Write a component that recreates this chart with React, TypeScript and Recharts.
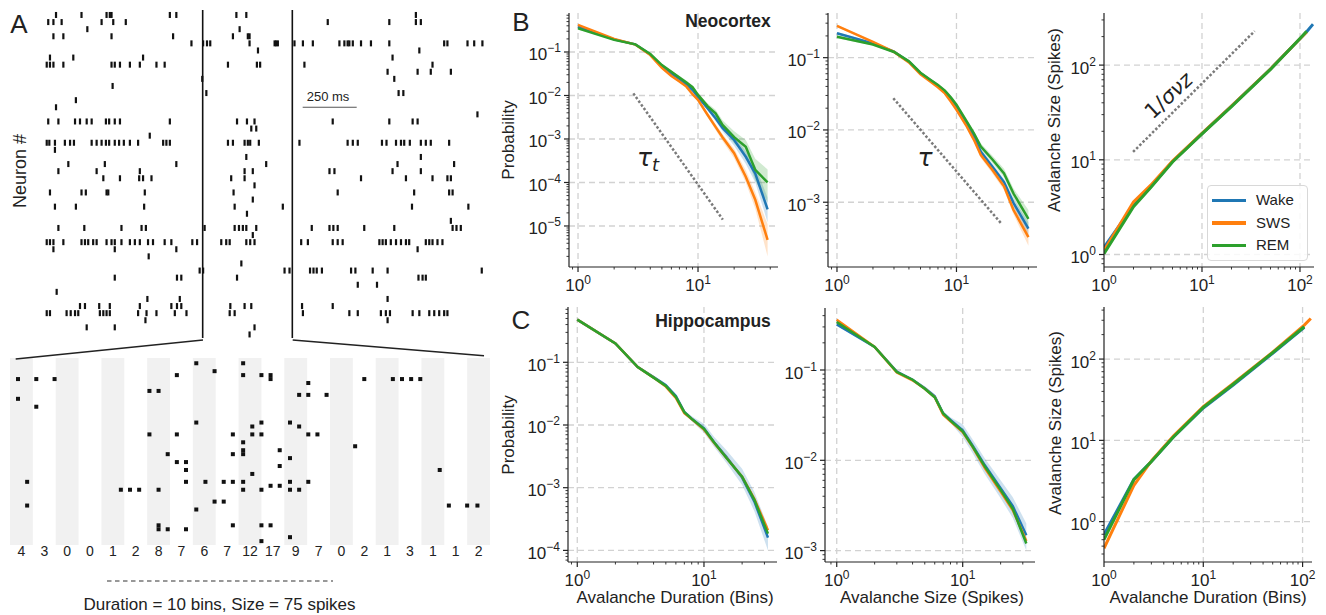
import React from 'react';
import {
  ComposedChart, Line, Area, XAxis, YAxis, CartesianGrid, ReferenceLine, ReferenceArea,
  Legend, ScatterChart, Scatter,
} from 'recharts';

const FONT = "'Liberation Sans', Arial, Helvetica, sans-serif";
const INK = '#222';
const WAKE = '#1f77b4';
const SWS = '#ff7f0e';
const REM = '#2ca02c';

// ---------- Panel A: raster (spike times in ms, one row per neuron) ----------
const rasterSpikes: number[][] = [
  [51, 169, 285, 300, 308, 578, 608, 886, 932, 1717],
  [15, 39, 77, 262, 316, 374, 1309, 1594, 1717, 1740],
  [196, 901],
  [39, 85, 308, 593, 870, 939, 947],
  [678, 732, 750, 765, 947, 1063, 1070, 1078, 1155, 1194, 1240, 1363, 1386, 1401, 1409, 1425, 1463, 1509, 1594, 1848, 1863, 1956, 1987, 2025],
  [986, 1733],
  [23, 131, 454, 1609],
  [8, 23, 39, 85, 308, 323, 347, 393, 439, 516, 554, 847, 981, 996, 1201, 1794],
  [1586, 1725, 1786, 1879],
  [728, 1617],
  [313],
  [747, 1637, 1659],
  [143],
  [51],
  [2002],
  [15, 62, 139, 162, 193, 216, 282, 297, 323, 347, 578, 889, 935, 970, 1332, 1594, 1702, 1725],
  [955, 978],
  [485],
  [8, 20, 46, 92, 116, 134, 216, 239, 262, 282, 297, 323, 343, 365, 393, 431, 547, 562, 578, 847, 870, 924, 939, 950, 990, 1178, 1401, 1425, 1448, 1560, 1581, 1625, 1648, 1663, 1689, 1740, 1763, 1786, 1871],
  [46],
  [932, 1740],
  [108, 277, 608, 1024, 1632, 1894],
  [62, 239, 439, 924, 962, 1317, 1340, 1609, 1740],
  [270, 347, 436, 454, 493, 862, 924, 1463, 1671, 1794, 1863, 1879],
  [970],
  [23, 169, 189, 285, 293, 462, 873, 1355, 1709, 1871, 1887],
  [962],
  [46, 143, 459, 878, 1101, 1699, 1960],
  [935],
  [1879],
  [62, 182, 354, 447, 467, 739, 878, 898, 916, 932, 978, 1235, 1317, 1335, 1355, 1478, 1617, 1887, 1905, 1925],
  [962],
  [8, 23, 39, 85, 169, 185, 200, 223, 239, 285, 308, 323, 354, 393, 416, 439, 477, 500, 554, 585, 682, 704, 816, 839, 855, 932, 950, 970, 1186, 1217, 1332, 1355, 1378, 1548, 1563, 1578, 1601, 1625, 1648, 1671, 1686, 1763, 1779, 1794, 1817, 1840],
  [39, 323, 608, 1725],
  [480],
  [909],
  [716, 732, 1109, 1132, 1227, 1243, 1258, 1282, 1417, 1437, 1517, 1586, 2022],
  [323, 611, 631, 889, 1729, 1748, 1763],
  [1448, 1537],
  [54],
  [474, 624, 1586],
  [162, 185, 251, 300, 439, 585, 611, 631, 858, 924, 955, 1190, 1332],
  [8, 23, 100, 119, 139, 154, 254, 270, 285, 300, 431, 470, 516, 601, 655, 855, 878, 1194, 1409, 1448, 1555, 1578, 1597, 1702, 1733, 1779, 1802, 1825, 1848, 1863],
  [465, 1586],
  [193, 323, 970],
  [947],
];
const windowEdges = [730, 1145];
const scaleBarMs = [1193, 1443];

// zoomed window: 21 bins of 20 ms, spikes as [time ms, row]
const binCounts = [4, 3, 0, 0, 1, 2, 8, 7, 6, 7, 12, 17, 9, 7, 0, 2, 1, 3, 1, 1, 2];
const zoomSpikes: [number, number][] = [
  [7, 5], [7, 10], [15, 31], [15, 37],
  [23, 5], [23, 12], [39, 5],
  [97, 33], [105, 33], [113, 33],
  [122, 8], [122, 19], [130, 8], [130, 33], [130, 42], [130, 43], [138, 24], [138, 43],
  [146, 4], [146, 19], [146, 26], [154, 26], [154, 28], [154, 31], [154, 43],
  [163, 1], [163, 16], [163, 38], [171, 31], [179, 3], [179, 36],
  [187, 31], [187, 36], [195, 19], [195, 24], [195, 31], [195, 42],
  [204, 1], [204, 4], [204, 21], [204, 23], [204, 24], [204, 31], [204, 33], [212, 17], [212, 19], [212, 29],
  [220, 4], [220, 16], [220, 19], [220, 33], [220, 42], [220, 46], [228, 4], [228, 5], [228, 32], [228, 42], [236, 23], [236, 27], [236, 32],
  [245, 16], [245, 25], [245, 31], [245, 33], [245, 45], [253, 9], [253, 17], [253, 33],
  [261, 6], [261, 9], [261, 19], [261, 31], [269, 19], [277, 9],
  [302, 22], [310, 5], [335, 5], [343, 5], [351, 5], [359, 5],
  [376, 28], [384, 37], [400, 37], [409, 37],
];

// ---------- Panel B: Neocortex ----------
const b1X = [1, 2, 3, 4, 5, 6, 7, 8, 9, 10, 12, 14, 16, 20, 25, 30, 38];
const b1Wake = [0.38, 0.195, 0.15, 0.088, 0.047, 0.032, 0.024, 0.018, 0.0134, 0.0093, 0.0051, 0.003, 0.0018, 0.00095, 0.00039, 0.00016, 0.000024];
const b1Sws = [0.42, 0.2, 0.148, 0.085, 0.043, 0.028, 0.021, 0.016, 0.0107, 0.0079, 0.0036, 0.0019, 0.0011, 0.00047, 0.000135, 0.00004, 0.0000048];
const b1Rem = [0.35, 0.19, 0.15, 0.09, 0.05, 0.035, 0.026, 0.02, 0.0155, 0.0103, 0.0057, 0.0039, 0.0021, 0.0011, 0.00066, 0.000195, 0.0001];
const b1WakeBand: [number, number][] = [[0.37, 0.39], [0.19, 0.2], [0.146, 0.154], [0.086, 0.09], [0.045, 0.049], [0.031, 0.033], [0.023, 0.025], [0.017, 0.019], [0.0126, 0.0142], [0.0086, 0.0101], [0.0046, 0.0057], [0.0026, 0.0035], [0.0015, 0.0022], [0.0007, 0.0012], [0.00027, 0.00052], [0.0001, 0.00024], [0.000012, 0.000045]];
const b1SwsBand: [number, number][] = [[0.41, 0.43], [0.195, 0.205], [0.144, 0.152], [0.083, 0.087], [0.041, 0.045], [0.027, 0.029], [0.02, 0.022], [0.015, 0.017], [0.0101, 0.0113], [0.0073, 0.0086], [0.0032, 0.004], [0.0016, 0.0022], [0.0009, 0.0013], [0.00036, 0.0006], [0.0001, 0.00019], [0.000025, 0.00006], [0.000002, 0.000011]];
const b1RemBand: [number, number][] = [[0.33, 0.37], [0.185, 0.195], [0.146, 0.154], [0.087, 0.093], [0.048, 0.052], [0.033, 0.037], [0.024, 0.028], [0.018, 0.022], [0.0142, 0.017], [0.0094, 0.0113], [0.005, 0.0066], [0.0033, 0.0047], [0.0017, 0.0027], [0.0008, 0.0015], [0.00045, 0.00095], [0.00011, 0.00035], [0.000035, 0.0002]];
const b1Tau = [{ x: 2.89, y: 0.0112 }, { x: 16.1, y: 0.000014 }];

const b2X = [1, 2, 3, 4, 5, 6, 7, 8, 9, 10, 12, 14, 16, 20, 25, 30, 40];
const b2Wake = [0.218, 0.158, 0.121, 0.088, 0.061, 0.049, 0.041, 0.034, 0.027, 0.021, 0.0128, 0.0081, 0.005, 0.0031, 0.0019, 0.00098, 0.00043];
const b2Sws = [0.275, 0.165, 0.12, 0.086, 0.059, 0.047, 0.039, 0.032, 0.0246, 0.019, 0.0117, 0.0073, 0.0045, 0.0028, 0.00166, 0.00078, 0.00033];
const b2Rem = [0.195, 0.152, 0.12, 0.089, 0.062, 0.05, 0.042, 0.035, 0.028, 0.0224, 0.0137, 0.009, 0.0059, 0.0039, 0.0025, 0.00132, 0.00059];
const b2WakeBand: [number, number][] = [[0.21, 0.226], [0.153, 0.163], [0.117, 0.125], [0.085, 0.091], [0.059, 0.063], [0.047, 0.051], [0.039, 0.043], [0.033, 0.035], [0.026, 0.028], [0.02, 0.022], [0.0122, 0.0134], [0.0077, 0.0086], [0.0047, 0.0054], [0.0028, 0.0034], [0.0017, 0.0021], [0.00085, 0.00112], [0.00035, 0.00053]];
const b2SwsBand: [number, number][] = [[0.265, 0.285], [0.16, 0.17], [0.116, 0.124], [0.083, 0.089], [0.057, 0.061], [0.045, 0.049], [0.037, 0.041], [0.031, 0.033], [0.0237, 0.0255], [0.018, 0.02], [0.011, 0.0124], [0.0068, 0.0078], [0.0041, 0.0049], [0.0025, 0.0031], [0.00148, 0.00185], [0.00068, 0.0009], [0.00025, 0.00043]];
const b2RemBand: [number, number][] = [[0.185, 0.205], [0.147, 0.157], [0.116, 0.124], [0.086, 0.092], [0.06, 0.064], [0.048, 0.052], [0.04, 0.044], [0.034, 0.036], [0.027, 0.029], [0.0214, 0.0235], [0.013, 0.0145], [0.0085, 0.0096], [0.0054, 0.0065], [0.0035, 0.0044], [0.0022, 0.0029], [0.00112, 0.00155], [0.00045, 0.00078]];
const b2Tau = [{ x: 2.96, y: 0.0275 }, { x: 23.9, y: 0.0005 }];

const b3X = [1, 2, 3, 5, 10, 20, 50, 100, 117, 136];
const b3Wake = [1.19, 3.3, 5.2, 9.6, 18.9, 37, 91, 190, 225, 271];
const b3Sws = [1.1, 3.6, 5.4, 9.7, 19, 37, 91, 190, 224, null];
const b3Rem = [1.02, 3.2, 5.1, 9.5, 18.8, 36.5, 90, 191, 228, null];
const b3Slope = [{ x: 1.98, y: 12.1 }, { x: 34.5, y: 229 }];

// ---------- Panel C: Hippocampus ----------
const c1X = [1, 2, 3, 4, 5, 6, 7, 8, 10, 12, 15, 20, 25, 32];
const c1Wake = [0.48, 0.2, 0.084, 0.058, 0.043, 0.029, 0.016, 0.0126, 0.0088, 0.0053, 0.0031, 0.00145, 0.0006, 0.00016];
const c1Sws = [0.48, 0.2, 0.084, 0.057, 0.041, 0.027, 0.0155, 0.0124, 0.0085, 0.0052, 0.003, 0.0015, 0.00066, 0.00021];
const c1Rem = [0.48, 0.2, 0.084, 0.057, 0.042, 0.028, 0.016, 0.0125, 0.0087, 0.0053, 0.003, 0.0015, 0.00064, 0.000185];
const c1WakeBand: [number, number][] = [[0.47, 0.49], [0.195, 0.205], [0.081, 0.087], [0.055, 0.061], [0.04, 0.046], [0.027, 0.031], [0.0148, 0.0173], [0.0115, 0.0138], [0.0075, 0.0105], [0.0045, 0.0065], [0.0025, 0.004], [0.0011, 0.002], [0.00042, 0.00085], [0.0001, 0.00024]];

const c2X = [1, 2, 3, 4, 5, 6, 7, 8, 10, 12, 15, 20, 25, 32];
const c2Wake = [0.32, 0.18, 0.096, 0.078, 0.063, 0.051, 0.033, 0.028, 0.0215, 0.0145, 0.0088, 0.0049, 0.0031, 0.00148];
const c2Sws = [0.36, 0.18, 0.094, 0.077, 0.062, 0.05, 0.032, 0.027, 0.0205, 0.014, 0.0082, 0.0045, 0.0028, 0.00128];
const c2Rem = [0.34, 0.18, 0.095, 0.078, 0.062, 0.05, 0.033, 0.0275, 0.021, 0.0142, 0.0085, 0.0047, 0.0029, 0.0012];
const c2WakeBand: [number, number][] = [[0.31, 0.33], [0.175, 0.185], [0.093, 0.099], [0.075, 0.081], [0.06, 0.066], [0.048, 0.054], [0.031, 0.035], [0.026, 0.03], [0.018, 0.025], [0.012, 0.017], [0.007, 0.0105], [0.0038, 0.006], [0.0023, 0.0039], [0.001, 0.002]];

const c3X = [1, 2, 3, 5, 10, 20, 50, 104, 121];
const c3Wake = [0.69, 3.3, 5.5, 11, 25, 48, 118, 245, null];
const c3Sws = [0.47, 2.8, 5.6, 11.3, 26, 50, 122, 262, 316];
const c3Rem = [0.6, 3.3, 5.5, 11, 25.5, 49, 120, 250, null];

const legendNames = ['Wake', 'SWS', 'REM'];
const legendColors = [WAKE, SWS, REM];

// ---------- helpers ----------
const logTicks = (lo: number, hi: number) => {
  const out: number[] = [];
  for (let e = Math.floor(Math.log10(lo)); e <= Math.ceil(Math.log10(hi)); e++) {
    for (let m = 1; m <= 9; m++) {
      const v = Number((m * Math.pow(10, e)).toPrecision(6));
      if (v >= lo && v <= hi) out.push(v);
    }
  }
  return out;
};

const expOf = (v: number) => {
  const lg = Math.log10(v);
  const e = Math.round(lg);
  return { e, major: Math.abs(lg - e) < 1e-6 };
};
const expText = (e: number) => (e < 0 ? '\u2212' + -e : String(e));

const XTick = (p: any) => {
  const { e, major } = expOf(p.payload.value);
  return (
    <g>
      <line x1={p.x} x2={p.x} y1={p.y} y2={p.y + (major ? 5 : 2.5)} stroke={INK} strokeWidth={major ? 1.2 : 0.9} />
      {major && (
        <text x={p.x} y={p.y + 24} textAnchor="middle" fill={INK} fontSize={17} fontFamily={FONT}>
          <tspan>10</tspan>
          <tspan dy={-7} fontSize={12}>{expText(e)}</tspan>
        </text>
      )}
    </g>
  );
};

const YTick = (p: any) => {
  const { e, major } = expOf(p.payload.value);
  return (
    <g>
      <line x1={p.x} x2={p.x - (major ? 5 : 2.5)} y1={p.y} y2={p.y} stroke={INK} strokeWidth={major ? 1.2 : 0.9} />
      {major && (
        <text x={p.x - 8} y={p.y + 8.5} textAnchor="end" fill={INK} fontSize={17} fontFamily={FONT}>
          <tspan>10</tspan>
          <tspan dy={-8} fontSize={12}>{expText(e)}</tspan>
        </text>
      )}
    </g>
  );
};

const LegendBox = () => (
  <div style={{ width: 101, boxSizing: 'border-box', border: '1px solid #d8d8d8', borderRadius: 4, background: 'rgba(255,255,255,0.85)', padding: '3px 6px 3px 4px', fontFamily: FONT, fontSize: 15, color: INK, lineHeight: '22.5px' }}>
    {legendNames.map((n, i) => (
      <div key={n} style={{ display: 'flex', alignItems: 'center' }}>
        <span style={{ display: 'inline-block', width: 34, height: 3.5, background: legendColors[i], marginRight: 10 }} />
        {n}
      </div>
    ))}
  </div>
);

type Ser = { key: string; color: string; values: (number | null)[]; band?: [number, number][] };
type PanelProps = {
  plot: [number, number, number, number];
  xDom: [number, number];
  yDom: [number, number];
  xs: number[];
  series: Ser[];
  seg?: { x: number; y: number }[];
  lw: number;
  xGrid: number[];
  yGrid: number[];
  legendAt?: [number, number];
};

function LogPanel({ plot, xDom, yDom, xs, series, seg, lw, xGrid, yGrid, legendAt }: PanelProps) {
  const [pl, pt, pr, pb] = plot;
  const left = pl - 70;
  const top = pt - 10;
  const data = xs.map((x, i) => {
    const row: Record<string, unknown> = { x };
    series.forEach((s) => {
      row[s.key] = s.values[i];
      if (s.band) row[s.key + 'Band'] = s.band[i];
    });
    return row;
  });
  return (
    <div style={{ position: 'absolute', left, top }}>
      <ComposedChart width={pr - pl + 95} height={pb - pt + 55} data={data} margin={{ top: 10, right: 25, bottom: 15, left: 30 }}>
        <CartesianGrid stroke="#d2d2d2" strokeDasharray="6 4" strokeWidth={1.3} horizontalValues={yGrid} verticalValues={xGrid} />
        <XAxis dataKey="x" type="number" scale="log" domain={xDom} allowDataOverflow ticks={logTicks(xDom[0], xDom[1])} interval={0}
          height={30} tickSize={0} tickMargin={0} tickLine={false} axisLine={{ stroke: INK, strokeWidth: 1.2 }} tick={XTick} />
        <YAxis type="number" scale="log" domain={yDom} allowDataOverflow ticks={logTicks(yDom[0], yDom[1])} interval={0}
          width={40} tickSize={0} tickMargin={0} tickLine={false} axisLine={{ stroke: INK, strokeWidth: 1.2 }} tick={YTick} />
        {series.filter((s) => s.band).map((s) => (
          <Area key={s.key + 'Band'} dataKey={s.key + 'Band'} stroke="none" fill={s.color} fillOpacity={0.22}
            isAnimationActive={false} legendType="none" dot={false} activeDot={false} />
        ))}
        {series.map((s) => (
          <Line key={s.key} dataKey={s.key} stroke={s.color} strokeWidth={lw} dot={false} activeDot={false} isAnimationActive={false} />
        ))}
        {seg && <ReferenceLine segment={seg} stroke="#7a7a7a" strokeWidth={2.5} strokeDasharray="2.5 2" ifOverflow="visible" />}
        {legendAt && (
          <Legend layout="vertical" align="center" verticalAlign="middle" content={() => <LegendBox />}
            wrapperStyle={{ left: legendAt[0] - left, top: legendAt[1] - top, width: 101 }} />
        )}
      </ComposedChart>
    </div>
  );
}

const Txt = ({ x, y, size, rotate = 0, bold, italic, family, children }: any) => (
  <div style={{ position: 'absolute', left: x, top: y, transform: `translate(-50%,-50%) rotate(${rotate}deg)`, fontSize: size, lineHeight: 1, whiteSpace: 'nowrap', fontWeight: bold ? 'bold' : 'normal', fontStyle: italic ? 'italic' : 'normal', fontFamily: family || FONT, color: INK }}>
    {children}
  </div>
);

const SpikeMark = (p: any) => <rect x={p.cx - 1.1} y={p.cy - 3} width={2.2} height={6} fill="#111" />;
const ZoomMark = (p: any) => <rect x={p.cx - 2} y={p.cy - 2} width={4} height={4} fill="#111" />;

function RasterPanel() {
  const points = rasterSpikes.flatMap((ts, i) => ts.map((t) => ({ t, n: i + 1 })));
  const zoomPoints = zoomSpikes.map(([t, r]) => ({ t, r }));
  const binCenters = binCounts.map((_, b) => b * 20 + 10);
  return (
    <>
      <div style={{ position: 'absolute', left: 0, top: 0 }}>
        <ScatterChart width={500} height={345} margin={{ top: 10, right: 15, bottom: 7, left: 45 }}>
          <XAxis dataKey="t" type="number" domain={[0, 2037]} hide allowDataOverflow />
          <YAxis dataKey="n" type="number" domain={[0.3, 46.5]} reversed hide />
          <Scatter data={points} shape={SpikeMark} isAnimationActive={false} />
          {windowEdges.map((x) => (
            <ReferenceLine key={x} x={x} stroke="#111" strokeWidth={1.6} />
          ))}
          <ReferenceLine segment={[{ x: scaleBarMs[0], y: 14 }, { x: scaleBarMs[1], y: 14 }]} stroke="#555" strokeWidth={1.2} />
        </ScatterChart>
      </div>
      <div style={{ position: 'absolute', left: 0, top: 345 }}>
        <ScatterChart width={500} height={230} margin={{ top: 13, right: 10, bottom: 0, left: 10 }}>
          {binCounts.map((_, b) => (b % 2 === 0 ? (
            <ReferenceArea key={b} x1={b * 20} x2={b * 20 + 20} fill="#f1f1f1" fillOpacity={1} stroke="none" />
          ) : null))}
          <XAxis dataKey="t" type="number" domain={[0, 420]} ticks={binCenters} interval={0} height={30}
            tickFormatter={(v: number) => String(binCounts[Math.floor(v / 20)])}
            axisLine={false} tickLine={false} tickSize={0} tickMargin={1} tick={{ fill: INK, fontSize: 14, fontFamily: FONT }} />
          <YAxis dataKey="r" type="number" domain={[-0.33, 46.98]} reversed hide />
          <Scatter data={zoomPoints} shape={ZoomMark} isAnimationActive={false} />
        </ScatterChart>
      </div>
      <svg width={500} height={600} style={{ position: 'absolute', left: 0, top: 0, pointerEvents: 'none' }}>
        <line x1={203} y1={340} x2={15.7} y2={359} stroke="#222" strokeWidth={1.5} />
        <line x1={292.7} y1={340} x2={484} y2={355.7} stroke="#222" strokeWidth={1.5} />
        <line x1={107} y1={581} x2={333} y2={581} stroke="#333" strokeWidth={1.2} strokeDasharray="4.5 3.5" />
      </svg>
    </>
  );
}

export default function App() {
  const yMajorB1 = [1e-1, 1e-2, 1e-3, 1e-4, 1e-5];
  return (
    <div style={{ position: 'absolute', left: 0, top: 0, width: 1326, height: 615, background: '#fff', overflow: 'hidden', fontFamily: FONT, color: INK }}>
      <RasterPanel />

      <LogPanel plot={[569, 13, 778, 267]} xDom={[0.841, 46.4]} yDom={[1.14e-6, 0.788]} xs={b1X} lw={2.5}
        xGrid={[1, 10]} yGrid={yMajorB1} seg={b1Tau}
        series={[
          { key: 'wake', color: WAKE, values: b1Wake, band: b1WakeBand },
          { key: 'sws', color: SWS, values: b1Sws, band: b1SwsBand },
          { key: 'rem', color: REM, values: b1Rem, band: b1RemBand },
        ]} />
      <LogPanel plot={[828, 13, 1037, 267]} xDom={[0.841, 47.2]} yDom={[1.27e-4, 0.415]} xs={b2X} lw={2.5}
        xGrid={[1, 10]} yGrid={[1e-1, 1e-2, 1e-3]} seg={b2Tau}
        series={[
          { key: 'wake', color: WAKE, values: b2Wake, band: b2WakeBand },
          { key: 'sws', color: SWS, values: b2Sws, band: b2SwsBand },
          { key: 'rem', color: REM, values: b2Rem, band: b2RemBand },
        ]} />
      <LogPanel plot={[1104, 13, 1314, 267]} xDom={[1, 139]} yDom={[0.738, 355]} xs={b3X} lw={3}
        xGrid={[10, 100]} yGrid={[1, 10, 100]} seg={b3Slope} legendAt={[1207, 185]}
        series={[
          { key: 'wake', color: WAKE, values: b3Wake },
          { key: 'sws', color: SWS, values: b3Sws },
          { key: 'rem', color: REM, values: b3Rem },
        ]} />

      <LogPanel plot={[568, 307, 777, 562]} xDom={[0.845, 37.7]} yDom={[6.53e-5, 0.762]} xs={c1X} lw={2.5}
        xGrid={[1, 10]} yGrid={[1e-1, 1e-2, 1e-3, 1e-4]}
        series={[
          { key: 'wake', color: WAKE, values: c1Wake, band: c1WakeBand },
          { key: 'sws', color: SWS, values: c1Sws },
          { key: 'rem', color: REM, values: c1Rem },
        ]} />
      <LogPanel plot={[825, 308, 1035, 562]} xDom={[0.807, 37.5]} yDom={[7.48e-4, 0.486]} xs={c2X} lw={2.5}
        xGrid={[1, 10]} yGrid={[1e-1, 1e-2, 1e-3]}
        series={[
          { key: 'wake', color: WAKE, values: c2Wake, band: c2WakeBand },
          { key: 'sws', color: SWS, values: c2Sws },
          { key: 'rem', color: REM, values: c2Rem },
        ]} />
      <LogPanel plot={[1104, 307, 1312, 562]} xDom={[1, 124.4]} yDom={[0.319, 437]} xs={c3X} lw={3}
        xGrid={[10, 100]} yGrid={[1, 10, 100]}
        series={[
          { key: 'wake', color: WAKE, values: c3Wake },
          { key: 'sws', color: SWS, values: c3Sws },
          { key: 'rem', color: REM, values: c3Rem },
        ]} />

      {/* panel letters and titles */}
      <Txt x={19} y={24} size={26}>A</Txt>
      <Txt x={521} y={22} size={26}>B</Txt>
      <Txt x={521} y={320} size={26}>C</Txt>
      <Txt x={20} y={171} size={18} rotate={-90}>Neuron #</Txt>
      <Txt x={328} y={95.5} size={13}>250 ms</Txt>
      <Txt x={219.5} y={604} size={17}>Duration = 10 bins, Size = 75 spikes</Txt>

      <Txt x={728} y={22} size={17.5} bold>Neocortex</Txt>
      <Txt x={713} y={322} size={17.5} bold>Hippocampus</Txt>

      <Txt x={508} y={140} size={17} rotate={-90}>Probability</Txt>
      <Txt x={508} y={435} size={17} rotate={-90}>Probability</Txt>
      <Txt x={1054} y={120} size={17} rotate={-90}>Avalanche Size (Spikes)</Txt>
      <Txt x={1055} y={423} size={17} rotate={-90}>Avalanche Size (Spikes)</Txt>
      <Txt x={675} y={597} size={17}>Avalanche Duration (Bins)</Txt>
      <Txt x={932} y={597} size={17}>Avalanche Size (Spikes)</Txt>
      <Txt x={1208} y={597} size={17}>Avalanche Duration (Bins)</Txt>

      <Txt x={648} y={157} size={25} italic family="'DejaVu Sans', sans-serif">
        τ<span style={{ fontSize: 18, position: 'relative', top: 5 }}>t</span>
      </Txt>
      <Txt x={925} y={157} size={25} italic family="'DejaVu Sans', sans-serif">τ</Txt>
      <Txt x={1169} y={96} size={21} rotate={-43} family="'DejaVu Sans', sans-serif">
        1/<i>σνz</i>
      </Txt>
    </div>
  );
}
